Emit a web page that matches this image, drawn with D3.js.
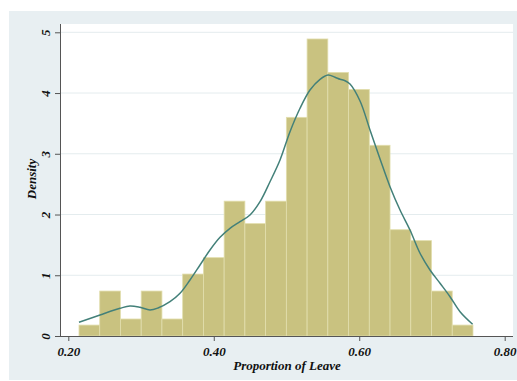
<!DOCTYPE html>
<html><head><meta charset="utf-8">
<script src="https://cdn.jsdelivr.net/npm/d3@7"></script>
<style>html,body{margin:0;padding:0;background:#fff;}svg{display:block;}</style>
</head><body>
<script>
// Histogram of proportion voting Leave (density scale)
const binStart = 0.2147;
const binWidth = 0.02851;
const densities = [0.18, 0.74, 0.28, 0.74, 0.28, 1.02, 1.29, 2.22, 1.85, 2.22, 3.60, 4.89, 4.34, 4.06, 3.14, 1.75, 1.57, 0.74, 0.18];
// Kernel density curve
const kdeX = [0.2147,0.2436,0.2711,0.2848,0.2986,0.3123,0.3233,0.3398,0.3536,0.3673,0.3811,0.3948,0.4086,0.4223,0.4361,0.4498,0.4636,0.4773,0.4911,0.5048,0.5186,0.5323,0.5461,0.5571,0.5667,0.5736,0.5805,0.5873,0.6011,0.6148,0.6286,0.6423,0.6561,0.6698,0.6836,0.6973,0.7111,0.7248,0.7386,0.7559];
const kdeY = [0.226,0.346,0.456,0.494,0.472,0.428,0.461,0.565,0.703,0.922,1.169,1.416,1.625,1.773,1.882,1.992,2.211,2.540,2.898,3.363,3.749,4.050,4.226,4.297,4.259,4.226,4.203,4.149,3.869,3.392,2.914,2.458,2.074,1.745,1.362,1.087,0.868,0.647,0.400,0.193];
const xTicks = [0.2, 0.4, 0.6, 0.8];
const yTicks = [0, 1, 2, 3, 4, 5];
const xTitle = "Proportion of Leave";
const yTitle = "Density";

const W = 517, H = 381;
const svg = d3.select("body").append("svg").attr("width", W).attr("height", H);
const font = "'Liberation Serif','Times New Roman',serif";

// outer panel
svg.append("rect").attr("x", 9).attr("y", 11).attr("width", 508).attr("height", 369).attr("fill", "#e8eff2");
// plot region
const plotL = 60, plotR = 513, plotT = 24, plotB = 336;
svg.append("rect").attr("x", plotL).attr("y", plotT).attr("width", plotR - plotL).attr("height", plotB - plotT)
  .attr("fill", "#ffffff");

const x = d3.scaleLinear().domain([0.2, 0.8]).range([68.3, 504.7]);
const y = d3.scaleLinear().domain([0, 5]).range([336, 32.3]);

// gridlines
svg.append("g").selectAll("line").data(yTicks.filter(d => d > 0)).join("line")
  .attr("x1", plotL).attr("x2", plotR).attr("y1", d => y(d)).attr("y2", d => y(d))
  .attr("stroke", "#e4ecee").attr("stroke-width", 1);

// bars
svg.append("g").selectAll("rect").data(densities).join("rect")
  .attr("x", (d, i) => x(binStart + i * binWidth))
  .attr("width", (d, i) => x(binStart + (i + 1) * binWidth) - x(binStart + i * binWidth))
  .attr("y", d => y(d))
  .attr("height", d => y(0) - y(d))
  .attr("fill", "#c9c280")
  .attr("stroke", "#e2dead").attr("stroke-width", 0.8);

// kde
const pts = kdeX.map((v, i) => [v, kdeY[i]]);
svg.append("path").datum(pts)
  .attr("d", d3.line().x(d => x(d[0])).y(d => y(d[1])).curve(d3.curveCatmullRom.alpha(0.5)))
  .attr("fill", "none").attr("stroke", "#438079").attr("stroke-width", 1.5);

// axes
const xAxis = svg.append("g").attr("transform", `translate(0,${plotB})`)
  .call(d3.axisBottom(x).tickValues(xTicks).tickFormat(d3.format(".2f")).tickSize(5).tickPadding(6));
xAxis.select(".domain").attr("d", `M${plotL},0.5H${plotR}`);
const yAxis = svg.append("g").attr("transform", `translate(${plotL},0)`)
  .call(d3.axisLeft(y).tickValues(yTicks).tickFormat(d3.format("d")).tickSize(5));
yAxis.select(".domain").attr("d", `M0.5,${plotT}V${plotB}`);
[xAxis, yAxis].forEach(a => {
  a.selectAll("path,line").attr("stroke", "#555");
  a.selectAll("text").attr("font-family", font).attr("font-weight", "bold").attr("font-style", "italic")
    .attr("font-size", 13).attr("fill", "#111");
});
yAxis.selectAll(".tick text").attr("text-anchor", "middle").attr("dy", null).attr("x", null)
  .attr("transform", "translate(-15,0) rotate(-90)").attr("dominant-baseline", "central");
xAxis.selectAll(".tick text").attr("dy", "0.71em");

// titles
svg.append("text").attr("x", 287).attr("y", 370).attr("text-anchor", "middle")
  .attr("font-family", font).attr("font-weight", "bold").attr("font-style", "italic").attr("font-size", 13)
  .attr("fill", "#111").text(xTitle);
svg.append("text").attr("transform", "translate(36,179) rotate(-90)").attr("text-anchor", "middle")
  .attr("font-family", font).attr("font-weight", "bold").attr("font-style", "italic").attr("font-size", 13)
  .attr("fill", "#111").text(yTitle);
</script>
</body></html>
